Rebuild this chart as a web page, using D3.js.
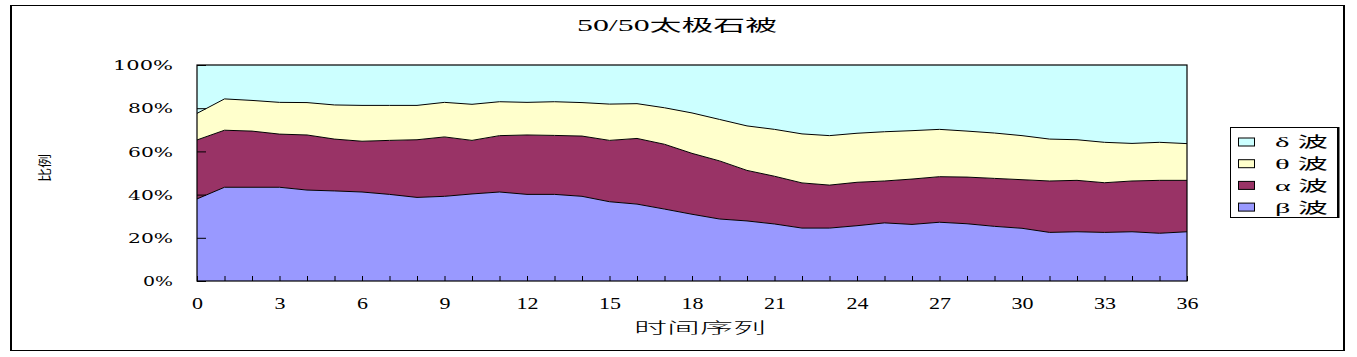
<!DOCTYPE html>
<html>
<head>
<meta charset="utf-8">
<script src="https://cdn.jsdelivr.net/npm/d3@7"></script>
<style>
  html, body { margin: 0; padding: 0; background: #fff; }
  svg { display: block; }
</style>
</head>
<body>
<svg id="chart" width="1357" height="357"></svg>
<script>
// ---- data ----
const timeIndex = d3.range(0, 37);
const betaWave  = [38.0,43.4,43.4,43.4,42.1,41.7,41.2,40.1,38.7,39.2,40.3,41.2,40.1,40.1,39.2,36.7,35.6,33.3,30.9,28.7,27.8,26.4,24.5,24.5,25.6,26.9,26.2,27.2,26.5,25.3,24.4,22.5,22.8,22.5,22.8,22.1,22.8];
const alphaWave = [27.3,26.4,26.0,24.6,25.5,24.0,23.5,25.0,26.7,27.5,24.8,26.1,27.5,27.3,27.9,28.4,30.4,30.0,28.2,26.9,23.4,22.1,20.9,19.9,20.1,19.4,21.0,21.1,21.6,22.2,22.5,23.8,23.8,23.0,23.5,24.5,23.8];
const thetaWave = [12.3,14.5,14.2,14.7,15.0,15.8,16.6,16.2,15.9,16.0,16.7,15.7,15.1,15.6,15.5,16.8,16.1,16.9,18.7,19.2,20.6,21.7,22.7,22.9,22.7,22.8,22.4,21.9,21.3,21.0,20.4,19.4,18.8,18.7,17.4,17.6,17.0];
const deltaWave = [22.4,15.7,16.4,17.3,17.4,18.5,18.7,18.7,18.7,17.3,18.2,17.0,17.3,17.0,17.4,18.1,17.9,19.8,22.2,25.2,28.2,29.8,31.9,32.7,31.6,30.9,30.4,29.8,30.6,31.5,32.7,34.3,34.6,35.8,36.3,35.8,36.4];
const seriesNames = ["β 波", "α 波", "θ 波", "δ 波"];   // stacking order bottom -> top
const seriesColors = ["#9999FF", "#993366", "#FFFFCC", "#CCFFFF"];
const xTickValues = [0,3,6,9,12,15,18,21,24,27,30,33,36];
const yTickValues = [0,20,40,60,80,100];
const titleText = "50/50太极石被";
const xTitle = "时间序列";
const yTitle = "比例";

// ---- build table ----
const keys = ["beta","alpha","theta","delta"];
const table = timeIndex.map((t, i) => {
  const tot = betaWave[i] + alphaWave[i] + thetaWave[i] + deltaWave[i];
  return { t, beta: betaWave[i]/tot*100, alpha: alphaWave[i]/tot*100, theta: thetaWave[i]/tot*100, delta: deltaWave[i]/tot*100 };
});
const stacked = d3.stack().keys(keys)(table);

const svg = d3.select("#chart");
const L = 197, R = 1187, T = 65, B = 281;
const x = d3.scaleLinear().domain([0, 36]).range([L, R]);
const y = d3.scaleLinear().domain([0, 100]).range([B, T]);

// outer border
svg.append("rect").attr("x", 10.5).attr("y", 5.5).attr("width", 1333).attr("height", 345)
  .attr("fill", "#fff").attr("stroke", "#000").attr("stroke-width", 1);
svg.append("line").attr("x1", 11).attr("x2", 11).attr("y1", 5).attr("y2", 351).attr("stroke", "#000").attr("stroke-width", 2);
svg.append("line").attr("x1", 1344).attr("x2", 1344).attr("y1", 5).attr("y2", 351).attr("stroke", "#000").attr("stroke-width", 2);

// areas
const area = d3.area().x(d => x(d.data.t)).y0(d => y(d[0])).y1(d => y(d[1]));
svg.append("g").selectAll("path").data(stacked).join("path")
  .attr("d", area).attr("fill", (d, i) => seriesColors[i]).attr("stroke", "none");
const line = d3.line().x(d => x(d.data.t)).y(d => y(d[1]));
svg.append("g").selectAll("path").data(stacked.slice(0, 3)).join("path")
  .attr("d", line).attr("fill", "none").attr("stroke", "#000").attr("stroke-width", 1);

// plot border
svg.append("rect").attr("x", L).attr("y", T).attr("width", R - L).attr("height", B - T)
  .attr("fill", "none").attr("stroke", "#000").attr("stroke-width", 1.2);

// y axis (inside ticks)
const yAxis = svg.append("g").attr("transform", `translate(${L},0)`)
  .call(d3.axisRight(y).tickValues(yTickValues).tickSize(9).tickFormat(d => d + "%"));
yAxis.select(".domain").remove();
yAxis.selectAll("line").attr("stroke", "#000");
yAxis.selectAll("text")
  .attr("x", -24).attr("dy", "0.36em").attr("text-anchor", "end")
  .style("font-family", "'DejaVu Serif', 'Liberation Serif', serif").style("font-size", "13px").attr("fill", "#000")
  .each(function(d) { const s = d + "%"; d3.select(this).attr("textLength", s.length * 15).attr("lengthAdjust", "spacingAndGlyphs"); });

// x axis (inside ticks at every index)
const xAxis = svg.append("g").attr("transform", `translate(0,${B})`)
  .call(d3.axisTop(x).tickValues(timeIndex).tickSize(5).tickFormat(""));
xAxis.select(".domain").remove();
xAxis.selectAll("line").attr("stroke", "#000");
const xLab = svg.append("g").attr("transform", `translate(0,${B})`)
  .call(d3.axisBottom(x).tickValues(xTickValues).tickSize(0).tickPadding(0));
xLab.select(".domain").remove();
xLab.selectAll("text")
  .attr("y", 22).attr("dy", "0.36em")
  .style("font-family", "'Liberation Serif', serif").style("font-size", "17px").attr("fill", "#000")
  .each(function(d) { const s = String(d); d3.select(this).attr("textLength", s.length * 11).attr("lengthAdjust", "spacingAndGlyphs"); });

// title
svg.append("text").attr("x", 677).attr("y", 31).attr("text-anchor", "middle")
  .style("font-family", "'Liberation Serif', 'Noto Sans CJK SC', serif").style("font-size", "16px")
  .attr("textLength", 200).attr("lengthAdjust", "spacingAndGlyphs").text(titleText);

// x title
svg.append("text").attr("x", 700).attr("y", 333).attr("text-anchor", "middle")
  .style("font-family", "'Noto Sans CJK SC', sans-serif").style("font-size", "15px").style("font-weight", 300)
  .attr("textLength", 132).attr("lengthAdjust", "spacingAndGlyphs").text(xTitle);

// y title (rotated, small)
svg.append("text").attr("transform", "translate(49,168) rotate(-90)").attr("text-anchor", "middle")
  .style("font-family", "'Noto Sans CJK SC', sans-serif").style("font-size", "13px")
  .attr("textLength", 28).attr("lengthAdjust", "spacingAndGlyphs").text(yTitle);

// legend
const lg = svg.append("g");
lg.append("rect").attr("x", 1230.5).attr("y", 127.5).attr("width", 107).attr("height", 90)
  .attr("fill", "#fff").attr("stroke", "#000").attr("stroke-width", 1);
lg.append("line").attr("x1", 1338.5).attr("x2", 1338.5).attr("y1", 127).attr("y2", 218).attr("stroke", "#000").attr("stroke-width", 2);
const legendOrder = [3, 2, 1, 0];
legendOrder.forEach((si, r) => {
  const cy = 142 + r * 21.7;
  lg.append("rect").attr("x", 1238.5).attr("y", cy - 4).attr("width", 16).attr("height", 8)
    .attr("fill", seriesColors[si]).attr("stroke", "#000").attr("stroke-width", 1);
  lg.append("text").attr("x", 1275).attr("y", cy).attr("dy", "0.36em")
    .style("font-family", "'Liberation Serif', 'Noto Sans CJK SC', serif").style("font-size", "15px")
    .attr("textLength", 53).attr("lengthAdjust", "spacingAndGlyphs").text(seriesNames[si]);
});
</script>
</body>
</html>
